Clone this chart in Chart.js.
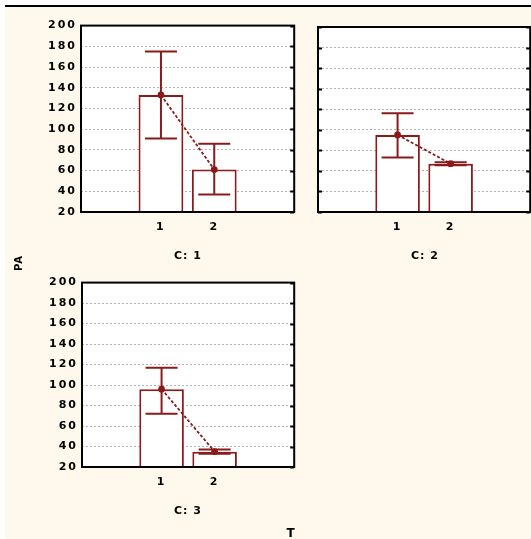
<!DOCTYPE html>
<html>
<head>
<meta charset="utf-8">
<script src="https://cdn.jsdelivr.net/npm/chart.js@4"></script>
<style>
body { margin: 0; background: #fff; }
#wrap { position: relative; width: 531px; height: 539px; overflow: hidden; background: #fef9ec; }
.white { position: absolute; background: #fff; }
.lbl { position: absolute; transform: translate(-50%, -50%); font: bold 11px "DejaVu Sans", sans-serif; letter-spacing: 1px; color: #000; white-space: nowrap; }
canvas { position: absolute; }
</style>
</head>
<body>
<div id="wrap">
  <div class="white" style="left:0;top:0;width:531px;height:5px"></div>
  <div class="white" style="left:0;top:0;width:5px;height:539px"></div>
  <div style="position:absolute;left:5px;top:5px;width:526px;height:2px;background:#000"></div>

  <canvas id="p1" width="270" height="255" style="left:30px;top:15px"></canvas>
  <canvas id="p2" width="236" height="255" style="left:300px;top:15px"></canvas>
  <canvas id="p3" width="270" height="255" style="left:30px;top:272px"></canvas>

  <div class="lbl" id="t1" style="left:188px;top:255px"></div>
  <div class="lbl" id="t2" style="left:425px;top:255px"></div>
  <div class="lbl" id="t3" style="left:188px;top:510px"></div>
  <div class="lbl" style="left:18px;top:263px;transform:translate(-50%,-50%) rotate(-90deg);font-size:10px">PA</div>
  <div class="lbl" style="left:291px;top:533px;font-size:12px">T</div>
</div>
<script>
// data
const categories = ['1', '2'];
const panelTitles = ['C: 1', 'C: 2', 'C: 3'];
const yTicks = [20, 40, 60, 80, 100, 120, 140, 160, 180, 200];

const means1 = [133, 61];
const upper1 = [175, 86];
const lower1 = [91, 37];

const means2 = [95, 67];
const upper2 = [116, 68.5];
const lower2 = [73, 65.5];

const means3 = [96, 35];
const upper3 = [117, 37];
const lower3 = [72, 33];

const red = '#8b1a1a';

document.getElementById('t1').textContent = panelTitles[0];
document.getElementById('t2').textContent = panelTitles[1];
document.getElementById('t3').textContent = panelTitles[2];

function makePanel(id, means, upper, lower, cfg) {
  const labels = [''].concat(categories, ['']);
  const padded = [null].concat(means, [null]);

  const deco = {
    id: 'deco',
    beforeDraw(chart) {
      const a = chart.chartArea;
      const ctx = chart.ctx;
      ctx.letterSpacing = '2px';
      ctx.save();
      ctx.fillStyle = '#fff';
      ctx.fillRect(a.left, a.top, a.right - a.left, a.bottom - a.top);
      ctx.restore();
    },
    afterDatasetsDraw(chart) {
      const ctx = chart.ctx;
      const y = chart.scales.y;
      const meta = chart.getDatasetMeta(0);
      ctx.save();
      ctx.strokeStyle = red;
      ctx.lineWidth = 2;
      for (let i = 0; i < means.length; i++) {
        const x = meta.data[i + 1].x;
        const hi = y.getPixelForValue(upper[i]);
        const lo = y.getPixelForValue(lower[i]);
        ctx.beginPath();
        ctx.moveTo(x, hi); ctx.lineTo(x, lo);
        ctx.moveTo(x - 16, hi); ctx.lineTo(x + 16, hi);
        ctx.moveTo(x - 16, lo); ctx.lineTo(x + 16, lo);
        ctx.stroke();
      }
      ctx.restore();
    },
    afterDraw(chart) {
      const ctx = chart.ctx;
      const a = chart.chartArea;
      const y = chart.scales.y;
      ctx.save();
      ctx.strokeStyle = '#000';
      ctx.lineWidth = 2;
      ctx.beginPath();
      yTicks.forEach(v => {
        const py = Math.round(y.getPixelForValue(v)) + 0.5;
        if (cfg.ticksRight) { ctx.moveTo(a.right, py); ctx.lineTo(a.right - 4, py); }
        if (cfg.ticksLeft) { ctx.moveTo(a.left, py); ctx.lineTo(a.left + 4, py); }
      });
      ctx.stroke();
      ctx.strokeRect(a.left, a.top, a.right - a.left, a.bottom - a.top);
      ctx.restore();
    }
  };

  return new Chart(document.getElementById(id), {
    type: 'bar',
    data: {
      labels: labels,
      datasets: [{
        type: 'bar',
        data: padded,
        backgroundColor: '#fff',
        borderColor: red,
        borderWidth: 2,
        barPercentage: 1,
        categoryPercentage: 0.84,
        order: 1
      }, {
        type: 'line',
        data: padded,
        borderColor: red,
        borderWidth: 1.8,
        borderDash: [3, 2],
        pointRadius: 2.5,
        pointBackgroundColor: red,
        pointBorderColor: red,
        order: 0
      }]
    },
    options: {
      responsive: false,
      animation: false,
      layout: { padding: { top: cfg.padTop, right: cfg.padRight, left: 0, bottom: 0 } },
      plugins: { legend: { display: false }, tooltip: { enabled: false } },
      scales: {
        x: {
          grid: { display: false, drawTicks: false },
          border: { display: false },
          ticks: { color: '#000', padding: 9, font: { family: 'DejaVu Sans', size: 11, weight: 'bold' } },
          afterFit(s) { s.height = cfg.xHeight; }
        },
        y: {
          min: yTicks[0],
          max: yTicks[yTicks.length - 1],
          afterBuildTicks(s) { s.ticks = yTicks.map(v => ({ value: v })); },
          grid: {
            drawTicks: false,
            color: c => (c.tick && (c.tick.value === yTicks[0] || c.tick.value === yTicks[yTicks.length - 1])) ? 'rgba(0,0,0,0)' : '#b4b4b4',
            lineWidth: 1
          },
          border: { display: false, dash: [2, 2] },
          ticks: {
            display: cfg.showY,
            color: '#000',
            padding: 4,
            font: { family: 'DejaVu Sans', size: 11, weight: 'bold' }
          },
          afterFit(s) { s.width = cfg.yWidth; }
        }
      }
    },
    plugins: [deco]
  });
}

makePanel('p1', means1, upper1, lower1, { padTop: 10, padRight: 5, xHeight: 58, yWidth: 51, showY: true, ticksRight: true, ticksLeft: false });
makePanel('p2', means2, upper2, lower2, { padTop: 12, padRight: 3, xHeight: 58, yWidth: 18, showY: false, ticksRight: true, ticksLeft: true });
makePanel('p3', means3, upper3, lower3, { padTop: 10, padRight: 4, xHeight: 60, yWidth: 52, showY: true, ticksRight: true, ticksLeft: false });
</script>
</body>
</html>
